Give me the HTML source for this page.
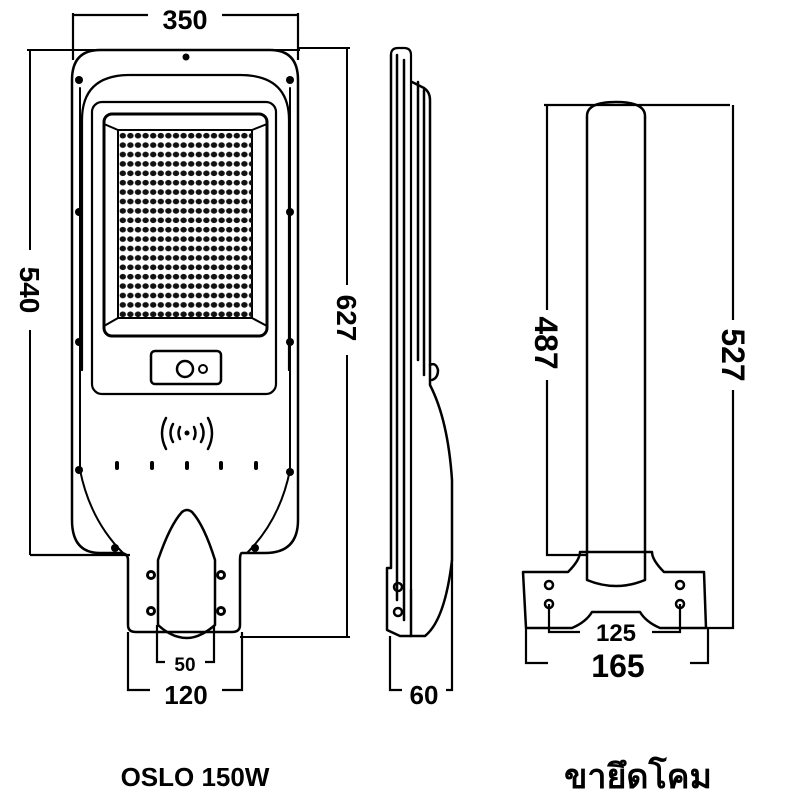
<!DOCTYPE html>
<html><head><meta charset="utf-8"><style>
html,body{margin:0;padding:0;background:#fff;width:800px;height:800px;overflow:hidden}
svg{display:block}
text{font-family:"Liberation Sans",sans-serif;font-weight:bold;fill:#000}
</style></head><body>
<svg width="800" height="800" viewBox="0 0 800 800" xmlns="http://www.w3.org/2000/svg">
<defs>
<pattern id="led" x="119" y="131" width="7.6" height="9.4" patternUnits="userSpaceOnUse">
<ellipse cx="3.8" cy="4.7" rx="3.2" ry="2.8" fill="#111"/>
</pattern>
</defs>
<g fill="none" stroke="#000" stroke-width="2.5" stroke-linecap="round" stroke-linejoin="round">
<path d="M72,80 Q72,50 100,50 L270,50 Q298,50 298,80 L298,520 Q298,553 265,553 L242,553 Q240,553 240,560 L240,625 Q240,632 232,632 L136,632 Q128,632 128,625 L128,560 Q128,553 120,553 L100,553 Q72,553 72,520 Z"/>
<path d="M80,88 L80,470 Q90,520 123,553" stroke-width="2"/>
<path d="M290,88 L290,470 Q280,520 247,553" stroke-width="2"/>
<path d="M82,370 L82,120 Q82,75 130,75 L240,75 Q289,75 289,120 L289,370" stroke-width="2.2"/>
<rect x="92" y="102" width="184" height="292" rx="10" stroke-width="2.2"/>
<rect x="104" y="114" width="163" height="222" rx="8" stroke-width="3"/>
<path d="M118,130 L252,130 L252,318 L118,318 Z" stroke-width="2"/>
<path d="M104,124 L118,130 M267,124 L252,130 M104,326 L118,318 M267,326 L252,318" stroke-width="2"/>
<rect x="151" y="351" width="70" height="33" rx="4" stroke-width="2.5"/>
<circle cx="185" cy="369" r="8" stroke-width="2.5"/>
<circle cx="203" cy="369" r="4" stroke-width="2"/>
<path d="M173,424 Q168,433 173,442 M180,427 Q177,433 180,439 M194,427 Q197,433 194,439 M201,424 Q206,433 201,442 M166,418 Q158,433 166,449 M208,418 Q216,433 208,449" stroke-width="2.5"/>
<path d="M158,560 Q170,525 182,512 Q187,508 192,512 Q204,525 215,560 L215,625 Q200,638 187,638 Q172,638 158,625 Z" stroke-width="2.5"/>
<path d="M391,55 Q391,48 398,48 L404,48 Q411,48 411,55 L411,590" stroke-width="2.2"/>
<path d="M391,55 L391,568 L387,568 L387,630 L400,636 L425,636 Q445,620 452,560 L452,480 Q448,420 430,385 L430,100 Q430,92 424,88 L412,82"/>
<path d="M397,55 L397,600 M404,60 L404,620 M411,590 L411,636"/>
<path d="M418,82 L418,360 M424,90 L424,375"/>
<path d="M430,365 Q436,362 438,370 Q438,378 432,380"/>
<circle cx="398" cy="587" r="4"/><circle cx="398" cy="612" r="4"/>
<path d="M587,116 Q587,102 616,102 Q645,102 645,116 L645,580 Q616,592 587,580 Z"/>
<path d="M523,572 L568,572 Q580,560 580,552 L652,552 Q652,560 664,572 L704,572 L706,628 L660,628 Q646,622 640,612 L592,612 Q586,622 572,628 L526,628 Z"/>
<circle cx="549" cy="585" r="4"/><circle cx="549" cy="604" r="4"/>
<circle cx="680" cy="585" r="4"/><circle cx="680" cy="604" r="4"/>
</g>
<rect x="118" y="130" width="134" height="188" fill="url(#led)"/>
<g fill="#000">
<circle cx="186" cy="57" r="3.5"/>
<circle cx="79" cy="80" r="4"/><circle cx="290" cy="80" r="4"/>
<circle cx="79" cy="212" r="4"/><circle cx="290" cy="212" r="4"/>
<circle cx="79" cy="342" r="4"/><circle cx="290" cy="342" r="4"/>
<circle cx="79" cy="470" r="4"/><circle cx="290" cy="472" r="4"/>
<circle cx="115" cy="548" r="4"/><circle cx="255" cy="548" r="4"/>
<circle cx="187" cy="433" r="2.5"/>
<rect x="115" y="461" width="4" height="9" rx="2"/><rect x="150" y="461" width="4" height="9" rx="2"/><rect x="185" y="461" width="4" height="9" rx="2"/><rect x="219" y="461" width="4" height="9" rx="2"/><rect x="254" y="461" width="4" height="9" rx="2"/>
<circle cx="151" cy="575" r="5"/><circle cx="221" cy="575" r="5"/>
<circle cx="151" cy="611" r="5"/><circle cx="221" cy="611" r="5"/>
</g>
<g fill="#fff"><circle cx="151" cy="575" r="2"/><circle cx="221" cy="575" r="2"/><circle cx="151" cy="611" r="2"/><circle cx="221" cy="611" r="2"/></g>
<g stroke="#000" stroke-width="2.2" fill="none">
<path d="M73,15 L148,15 M222,15 L298,15 M73,13 L73,60 M298,13 L298,60"/>
<path d="M30,50 L30,250 M30,330 L30,555 M27,50 L300,50" stroke-width="2"/>
<path d="M30,555 L130,555"/>
<path d="M347,48 L347,285 M347,355 L347,637 M240,637 L350,637 M298,48 L350,48" stroke-width="2"/>
<path d="M157,625 L157,662 L165,662 M205,662 L214,662 L214,625"/>
<path d="M128,632 L128,690 L150,690 M222,690 L242,690 L242,632"/>
<path d="M390,636 L390,690 L402,690 M446,690 L452,690 L452,560"/>
<path d="M544,105 L730,105"/>
<path d="M547,105 L547,310 M547,380 L547,555 L587,555"/>
<path d="M733,105 L733,320 M733,390 L733,628 L706,628"/>
<path d="M549,604 L549,632 L580,632 M652,632 L680,632 L680,604"/>
<path d="M526,628 L526,663 L548,663 M690,663 L708,663 L708,628"/>
</g>
<text x="185" y="29" font-size="27" text-anchor="middle">350</text>
<text transform="translate(20,290) rotate(90)" font-size="28" text-anchor="middle">540</text>
<text transform="translate(337,318) rotate(90)" font-size="28" text-anchor="middle">627</text>
<text x="185" y="671" font-size="19" text-anchor="middle">50</text>
<text x="186" y="704" font-size="26" text-anchor="middle">120</text>
<text x="424" y="704" font-size="26" text-anchor="middle">60</text>
<text transform="translate(535,343) rotate(90)" font-size="32" text-anchor="middle">487</text>
<text transform="translate(722,355) rotate(90)" font-size="32" text-anchor="middle">527</text>
<text x="616" y="641" font-size="24" text-anchor="middle">125</text>
<text x="618" y="677" font-size="32" text-anchor="middle">165</text>
<text x="195" y="786" font-size="26" text-anchor="middle">OSLO 150W</text>
<text x="638" y="788" font-size="34" text-anchor="middle" style="font-family:'Liberation Sans','DejaVu Sans',sans-serif">ขายึดโคม</text>
</svg>
</body></html>
